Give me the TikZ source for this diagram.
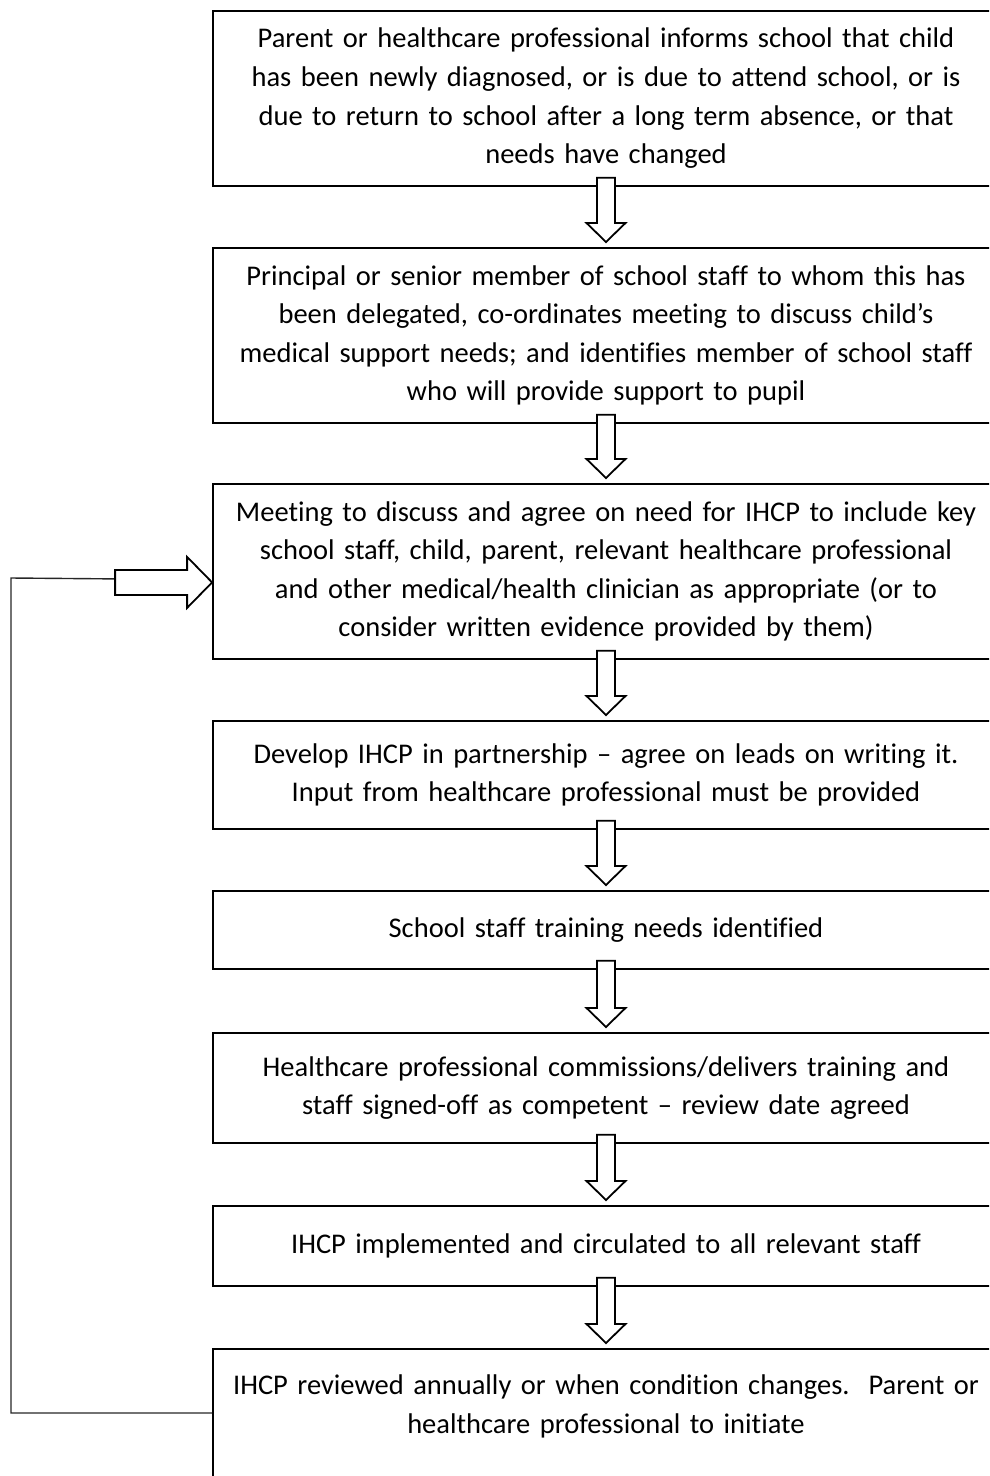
\documentclass[tikz,border=0pt]{standalone}
\usepackage{fontspec}
\setmainfont{Carlito}[Ligatures=NoCommon]
\usetikzlibrary{calc}
\newcommand\blockdown[2]{%
  \draw[barrow] let \p1=(#1.south), \p2=(#2.north) in
    ({\x1-9pt},{\y1+9pt}) -- ({\x1-9pt},{\y2+24pt}) -- ({\x1-19.5pt},{\y2+24pt}) --
    (\x1,{\y2+5pt}) -- ({\x1+19.5pt},{\y2+24pt}) -- ({\x1+9pt},{\y2+24pt}) --
    ({\x1+9pt},{\y1+9pt}) -- cycle;}
\begin{document}
\begin{tikzpicture}[x=1pt,y=1pt,
  box/.style={draw, line width=1.8pt, minimum width=786pt, text width=770pt,
    align=center, inner sep=0pt, anchor=north,
    font=\fontsize{28.5}{38.6}\selectfont},
  barrow/.style={draw, line width=1.8pt, fill=white, line join=miter},
  fbline/.style={draw=black!85, line width=1.4pt}]
\useasboundingbox (0,0) rectangle (989,-1476);
\clip (0,0) rectangle (989,-1476);

\node[box, minimum height=175pt] (b1) at (606,-10)
 {Parent or healthcare professional informs school that child\\
  has been newly diagnosed, or is due to attend school, or is\\
  due to return to school after a long term absence, or that\\
  needs have changed};
\node[box, minimum height=175pt] (b2) at (606,-247)
 {Principal or senior member of school staff to whom this has\\
  been delegated, co-ordinates meeting to discuss child’s\\
  medical support needs; and identifies member of school staff\\
  who will provide support to pupil};
\node[box, minimum height=175pt] (b3) at (606,-483)
 {Meeting to discuss and agree on need for IHCP to include key\\
  school staff, child, parent, relevant healthcare professional\\
  and other medical/health clinician as appropriate (or to\\
  consider written evidence provided by them)};
\node[box, minimum height=108pt] (b4) at (606,-720)
 {Develop IHCP in partnership – agree on leads on writing it.\\
  Input from healthcare professional must be provided};
\node[box, minimum height=78pt] (b5) at (606,-890)
 {School staff training needs identified};
\node[box, minimum height=110pt] (b6) at (606,-1032)
 {Healthcare professional commissions/delivers training and\\
  staff signed-off as competent – review date agreed};
\node[box, minimum height=80pt] (b7) at (606,-1205)
 {IHCP implemented and circulated to all relevant staff};
\node[box, minimum height=160pt] (b8) at (606,-1348)
 {IHCP reviewed annually or when condition changes.\ \ Parent or\\
  healthcare professional to initiate\\ \strut};

\blockdown{b1}{b2}
\blockdown{b2}{b3}
\blockdown{b3}{b4}
\blockdown{b4}{b5}
\blockdown{b5}{b6}
\blockdown{b6}{b7}
\blockdown{b7}{b8}

% feedback loop
\coordinate (fa) at ($(b8.north west)+(0,-65)$);
\coordinate (lt) at ($(b3.west)+(0,-11)$);
\coordinate (c1) at (11,-1413);
\coordinate (c2) at (11,-578);
\coordinate (ta) at ($(lt)+(-97,3.5)$);
\draw[fbline] (fa) -- (c1) -- (c2) -- (ta);
\draw[barrow] (lt) -- ++(-25,25.5) -- ++(0,-13) -- ++(-72,0) -- ++(0,-25)
  -- ++(72,0) -- ++(0,-13) -- cycle;
\end{tikzpicture}
\end{document}
